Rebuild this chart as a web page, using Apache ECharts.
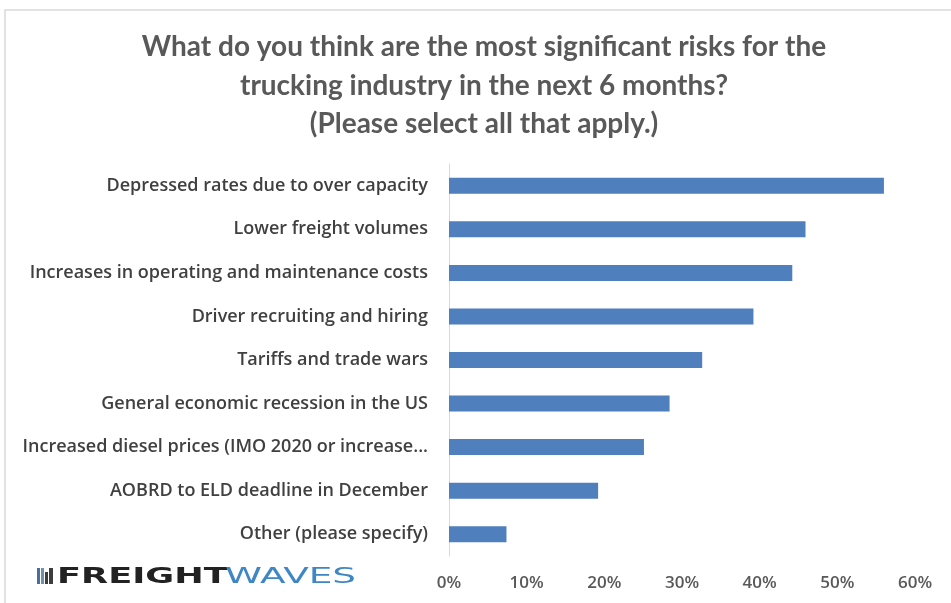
<!DOCTYPE html>
<html>
<head>
<meta charset="utf-8">
<script src="https://cdn.jsdelivr.net/npm/echarts@6/dist/echarts.min.js"></script>
<style>html,body{margin:0;padding:0;background:#fff;}#c{width:951px;height:603px;}</style>
</head>
<body>
<div id="c"></div>
<script>
const titleLines = [
  "What do you think are the most significant risks for the",
  "trucking industry in the next 6 months?",
  "(Please select all that apply.)"
];
const categories = [
  "Depressed rates due to over capacity",
  "Lower freight volumes",
  "Increases in operating and maintenance costs",
  "Driver recruiting and hiring",
  "Tariffs and trade wars",
  "General economic recession in the US",
  "Increased diesel prices (IMO 2020 or increase...",
  "AOBRD to ELD deadline in December",
  "Other (please specify)"
];
const values = [56.0, 45.9, 44.2, 39.2, 32.6, 28.4, 25.1, 19.2, 7.4];
const xTicks = [0, 10, 20, 30, 40, 50, 60];

const chart = echarts.init(document.getElementById('c'), null, {renderer: 'canvas'});
chart.setOption({
  backgroundColor: '#ffffff',
  animation: false,
  title: {
    text: titleLines.join('\n'),
    left: 479,
    textAlign: 'center',
    top: 23,
    textStyle: {
      fontFamily: 'Lato',
      fontWeight: 'bold',
      fontSize: 28,
      lineHeight: 38.5,
      color: '#595959'
    }
  },
  grid: { left: 449, right: 36, top: 164, height: 392, containLabel: false },
  xAxis: {
    type: 'value',
    min: xTicks[0],
    max: xTicks[xTicks.length - 1],
    interval: 10,
    axisLine: { show: false },
    axisTick: { show: false },
    splitLine: { show: false },
    axisLabel: {
      formatter: v => v + '%',
      margin: 19,
      fontFamily: 'Open Sans',
      fontWeight: 600,
      fontSize: 17,
      color: '#595959'
    }
  },
  yAxis: {
    type: 'category',
    data: categories,
    inverse: true,
    axisLine: { show: true, lineStyle: { color: '#d9d9d9', width: 1 } },
    axisTick: { show: false },
    axisLabel: {
      margin: 21,
      fontFamily: 'Open Sans',
      fontWeight: 600,
      fontSize: 18,
      color: '#404040'
    }
  },
  series: [{
    type: 'bar',
    data: values,
    barWidth: 16,
    itemStyle: { color: '#4f7fbd' }
  }],
  graphic: [
    { type: 'polyline', shape: { points: [[5, 603], [5, 10], [951, 10]] }, style: { stroke: '#d9d9d9', fill: null, lineWidth: 1.5 }, silent: true },
    { type: 'group', x: 37, y: 567, children: [
      { type: 'rect', shape: { x: 0, y: 1, width: 3, height: 16 }, style: { fill: '#4a6f9a' } },
      { type: 'rect', shape: { x: 4, y: 1, width: 3, height: 16 }, style: { fill: '#6f8fb5' } },
      { type: 'rect', shape: { x: 8, y: 5, width: 3, height: 12 }, style: { fill: '#3d3d3d' } },
      { type: 'rect', shape: { x: 12, y: 1, width: 4, height: 16 }, style: { fill: '#3d3d3d' } },
      { type: 'text', x: 20, y: -1, scaleX: 1.6, style: {
        text: 'FREIGHT', fontFamily: 'DejaVu Sans', fontWeight: 'bold', fontSize: 22, fill: '#222222'
      } },
      { type: 'text', x: 188, y: -1, scaleX: 1.7, style: {
        text: 'WAVES', fontFamily: 'DejaVu Sans', fontWeight: 'normal', fontSize: 22, fill: '#3f87c4'
      } }
    ] }
  ]
});
</script>
</body>
</html>
